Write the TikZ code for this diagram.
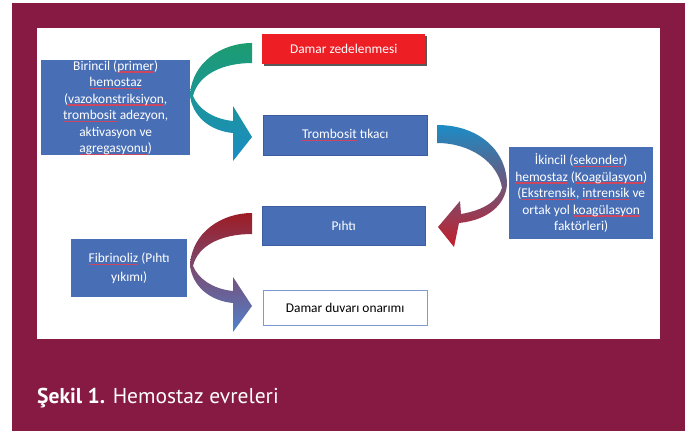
\documentclass[tikz,border=0pt]{standalone}
\usepackage{fontspec}
\setmainfont{Carlito}
\newfontfamily\capfont{PT Sans}
\definecolor{maroon}{RGB}{134,26,66}
\definecolor{boxblue}{RGB}{72,110,182}
\definecolor{boxblueD}{RGB}{60,92,160}
\definecolor{boxred}{RGB}{237,30,36}
\definecolor{sqred}{RGB}{205,70,95}
\definecolor{lineblue}{RGB}{125,155,210}
\definecolor{agreen}{RGB}{28,156,112}
\definecolor{ateal}{RGB}{26,160,168}
\definecolor{ablue}{RGB}{28,140,198}
\definecolor{apurple}{RGB}{140,100,150}
\definecolor{ared}{RGB}{196,30,42}
\definecolor{adred}{RGB}{158,27,36}
\definecolor{apurple2}{RGB}{138,100,160}
\definecolor{ablue2}{RGB}{80,130,204}
\newsavebox\sqbox
\newcommand\sq[1]{\sbox\sqbox{#1}\rlap{\textcolor{sqred}{\vrule width\wd\sqbox height -1.1pt depth 2.7pt}}\usebox\sqbox}
\begin{document}
\begin{tikzpicture}[x=1pt,y=-1pt,
  box/.style={anchor=north west, inner sep=0pt, align=center, text=white, fill=boxblue,
    font=\fontsize{13.4}{16.5}\selectfont},
  capstyle/.style={anchor=base west, inner sep=0pt, text=white, font=\capfont\fontsize{21.5}{26}\selectfont}]
\useasboundingbox (0,0) rectangle (696,431);
\fill[white] (0,0) rectangle (696,431);
\fill[maroon] (12,3) rectangle (685,431);
\fill[white] (37,28) rectangle (660,339);

% boxes
\fill[black!65] (263.5,35.5) rectangle (426.5,65.5);
\node[box, fill=boxred, minimum width=163pt, minimum height=30pt] (dz) at (262,34) {Damar zedelenmesi};
\node[box, minimum width=149pt, minimum height=95pt] (bir) at (41,60)
  {Birincil (\sq{primer})\\ \sq{hemostaz}\\ (\sq{vazokonstriksiyon},\\ \sq{trombosit} adezyon,\\ aktivasyon ve\\ \sq{agregasyonu})};
\node[box, draw=boxblueD, minimum width=164pt, minimum height=40pt] (tt) at (263,115) {\sq{Trombosit} tıkacı};
\node[box, minimum width=144pt, minimum height=92pt] (ik) at (509,147)
  {İkincil (\sq{sekonder})\\ \sq{hemostaz} (\sq{Koagülasyon})\\ (\sq{Ekstrensik}, \sq{intrensik} ve\\ ortak yol \sq{koagülasyon}\\ faktörleri)};
\node[box, draw=boxblueD, minimum width=163pt, minimum height=39pt] (pi) at (262,206) {Pıhtı};
\node[box, minimum width=116pt, minimum height=58pt, font=\fontsize{13.4}{19}\selectfont] (fi) at (71,239)
  {\sq{Fibrinoliz} (Pıhtı\\ yıkımı)};
\node[box, fill=white, draw=lineblue, text=black, minimum width=164pt, minimum height=35pt] (dd) at (263,290) {Damar duvarı onarımı};

% curved arrows
\shade[top color=agreen, middle color=ateal, bottom color=ablue]
  (252,43) .. controls (222,43) and (192,62) .. (190,95)
  .. controls (192,116) and (210,131) .. (233,133)
  -- (233,161) -- (252,137) -- (233,106) -- (233,121)
  .. controls (212,119) and (198,108) .. (193,96)
  .. controls (198,75) and (222,63) .. (252,63) -- cycle;
\shade[top color=ablue, middle color=apurple, bottom color=ared]
  (437,125) .. controls (478,125) and (507,150) .. (507,185)
  .. controls (505,205) and (488,220) .. (459,223)
  -- (454,247) -- (438,227) -- (460,201) -- (461,214)
  .. controls (485,210) and (498,200) .. (502,188)
  .. controls (498,162) and (470,143) .. (437,143) -- cycle;
\shade[top color=adred, middle color=apurple2, bottom color=ablue2]
  (252,213) .. controls (222,213) and (192,232) .. (190,265)
  .. controls (192,286) and (210,301) .. (233,303)
  -- (233,332) -- (252,306) -- (233,277) -- (233,291)
  .. controls (212,289) and (198,278) .. (193,266)
  .. controls (198,245) and (222,234) .. (252,234) -- cycle;

\node[capstyle] (cap) at (37,403) {\textbf{Şekil 1.} Hemostaz evreleri};
\end{tikzpicture}
\end{document}
